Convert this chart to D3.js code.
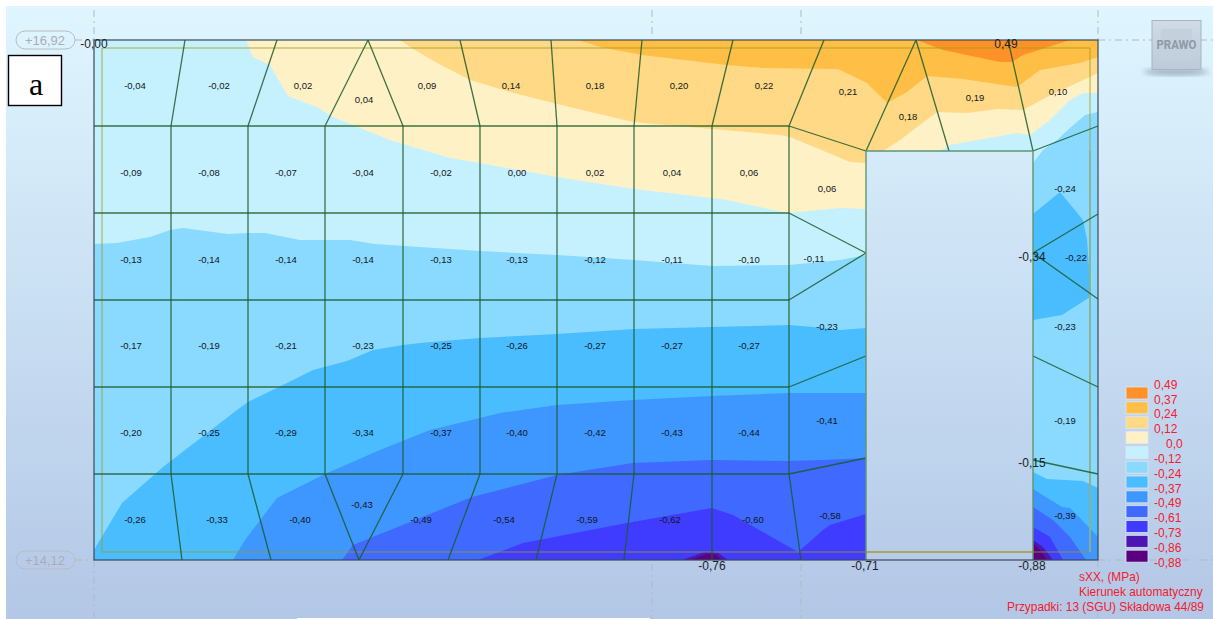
<!DOCTYPE html>
<html>
<head>
<meta charset="utf-8">
<script src="https://cdn.jsdelivr.net/npm/d3@7"></script>
<style>
  html, body { margin: 0; padding: 0; background: #fff; overflow: hidden; }
  svg { display: block; }
  text { font-family: "Liberation Sans", Arial, sans-serif; }
</style>
</head>
<body>
<script>
// model stations: x from the left wall edge, y down from the top wall edge
const wallSize = [1004, 520];
const hole = {x0: 772, x1: 939, y0: 111, y1: 520};

// legend
const legendLabels = ["0,49", "0,37", "0,24", "0,12", "0,0", "-0,12", "-0,24", "-0,37", "-0,49", "-0,61", "-0,73", "-0,86", "-0,88"];
const legendColors = ["#ff9128", "#ffbe46", "#ffd985", "#fff1c6", "#c5f1ff", "#8ad9ff", "#49bdff", "#3e96ff", "#3f69ff", "#3f3cff", "#4c16b0", "#5a0080"];
const captionLines = ["sXX, (MPa)", "Kierunek automatyczny", "Przypadki: 13 (SGU) Składowa 44/89"];

// contour bands, painted in this order over the base colour
const bandCream = [[152,0],[159,17],[176,25],[194,56],[223,67],[239,77],[266,88],[296,100],[306,103],[356,118],[386,123],[463,137],[540,149],[618,158],[633,160],[694,173],[746,168],[772,169],[772,111],[846,111],[856,105],[923,93],[936,95],[956,80],[976,60],[989,53],[1004,53],[1004,0]];
const bandPale = [[306,0],[316,7],[343,23],[376,40],[416,52],[463,64],[539,82],[583,86],[618,89],[686,95],[696,97],[756,122],[772,123],[772,111],[789,111],[806,100],[843,72],[873,73],[903,69],[929,70],[953,57],[1004,33],[1004,0]];
const bandAmber = [[484,0],[506,7],[548,15],[633,25],[669,28],[744,29],[773,43],[793,63],[813,52],[833,36],[869,39],[923,47],[946,30],[986,23],[1004,17],[1004,0]];
const bandOrange = [[823,0],[849,10],[906,22],[918,22],[929,15],[976,0]];
const leftSky = [[0,204],[23,203],[56,197],[76,190],[89,188],[134,194],[153,193],[171,193],[206,200],[256,200],[281,204],[326,207],[386,211],[463,215],[540,220],[618,226],[695,225],[746,220],[772,215],[772,520],[0,520]];
const leftAzure = [[0,510],[28,463],[69,427],[143,370],[154,362],[189,345],[219,330],[253,321],[279,310],[309,305],[326,303],[386,298],[463,294],[540,289],[618,287],[695,285],[719,287],[746,290],[772,288],[772,520],[0,520]];
const leftBlue = [[139,520],[151,500],[183,458],[231,434],[286,410],[336,390],[386,378],[406,373],[463,365],[539,360],[618,356],[696,353],[772,353],[772,520]];
const leftRoyal = [[248,520],[259,505],[326,478],[378,457],[463,435],[539,423],[618,420],[694,421],[729,420],[772,418],[772,520]];
const leftIndigo = [[384,520],[429,503],[533,483],[618,468],[639,475],[704,512],[729,490],[736,485],[772,474],[772,520]];
const leftViolet = [[588,520],[611,512],[624,513],[634,520]];
const leftPurple = [[596,520],[614,514],[622,515],[628,520]];
const rightSky = [[939,123],[949,110],[963,100],[976,88],[991,75],[1004,72],[1004,520],[939,520]];
const rightBlob = [[939,174],[966,152],[989,180],[993,200],[996,240],[996,257],[968,275],[939,280]];
const rightAzure = [[939,432],[953,439],[989,441],[1004,448],[1004,520],[939,520]];
const rightBlue = [[939,449],[968,467],[976,468],[986,478],[1004,497],[1004,520],[939,520]];
const rightRoyal = [[939,467],[959,480],[976,497],[992,520],[939,520]];
const rightIndigo = [[939,487],[956,497],[969,520],[939,520]];
const rightViolet = [[939,500],[949,507],[959,520],[939,520]];
const rightPurple = [[939,503],[947,511],[953,520],[939,520]];

const bands = [
  [bandCream, 3], [bandPale, 2], [bandAmber, 1], [bandOrange, 0],
  [leftSky, 5], [leftAzure, 6], [leftBlue, 7], [leftRoyal, 8], [leftIndigo, 9], [leftViolet, 10], [leftPurple, 11],
  [rightSky, 5], [rightBlob, 6], [rightAzure, 6], [rightBlue, 7], [rightRoyal, 8], [rightIndigo, 9], [rightViolet, 10], [rightPurple, 11]
];

// mesh
const meshRows = [86, 173, 260, 347, 434];
const meshCols = [77, 154, 231, 309, 386, 463, 540, 618, 695];
const topNodes = [91, 183, 274, 274, 366, 457, 548, 639, 730];
const bottomNodes = [88, 177, 265, 265, 354, 442, 530, 618, 707];
const meshExtra = [
  [[772,111],[822,0]], [[855,111],[822,0]], [[939,111],[914,0]],
  [[695,86],[772,111]], [[939,111],[1004,86]],
  [[695,173],[772,213]], [[695,260],[772,213]],
  [[939,213],[1004,174]], [[939,213],[1004,259]],
  [[695,347],[772,316]], [[939,316],[1004,347]],
  [[695,434],[772,418]], [[939,420],[1004,434]]
];

// element values and where they sit
const cellValues = [
  "-0,04","-0,02","0,02","0,04","0,09","0,14","0,18","0,20","0,22","0,21","0,18","0,19","0,10",
  "-0,09","-0,08","-0,07","-0,04","-0,02","0,00","0,02","0,04","0,06","0,06","-0,24",
  "-0,13","-0,14","-0,14","-0,14","-0,13","-0,13","-0,12","-0,11","-0,10","-0,11","-0,22",
  "-0,17","-0,19","-0,21","-0,23","-0,25","-0,26","-0,27","-0,27","-0,27","-0,23","-0,23",
  "-0,20","-0,25","-0,29","-0,34","-0,37","-0,40","-0,42","-0,43","-0,44","-0,41","-0,19",
  "-0,26","-0,33","-0,40","-0,43","-0,49","-0,54","-0,59","-0,62","-0,60","-0,58","-0,39"
];
const cellAnchors = [
  [41,46],[125,46],[209,46],[270,60],[333,46],[417,46],[501,46],[585,46],[670,46],[754,52],[814,77],[881,58],[964,52],
  [37,133],[115,133],[192,133],[269,133],[347,133],[423,133],[501,133],[578,133],[655,133],[733,149],[971,149],
  [37,220],[115,220],[192,220],[269,220],[347,220],[423,220],[501,220],[578,220],[655,220],[720,219],[982,218],
  [37,306],[115,306],[192,306],[269,306],[347,306],[423,306],[501,306],[578,306],[655,306],[733,287],[971,287],
  [37,393],[115,393],[192,393],[269,393],[347,393],[423,393],[501,393],[578,393],[655,393],[733,381],[971,381],
  [41,480],[123,480],[206,480],[268,465],[327,480],[410,480],[493,480],[576,480],[659,480],[736,476],[971,476]
];
const extremeValues = ["-0,00", "0,49", "-0,34", "-0,15", "-0,76", "-0,71", "-0,88"];
const extremeAnchors = [[0,4],[912,4],[938,217],[938,423],[618,526],[771,526],[938,526]];

const elevationLabels = ["+16,92", "+14,12"];
const elevationStations = [0, 520];
const guideStations = [0, 558, 707, 1004];

const width = 1213, height = 619;
const x = d3.scaleLinear().domain([0, wallSize[0]]).range([94, 1098]);
const y = d3.scaleLinear().domain([0, wallSize[1]]).range([40, 560]);
const poly = d3.line().x(d => x(d[0])).y(d => y(d[1]));
const legendY = d3.scalePoint().domain(legendLabels).range([384.5, 562.5]);

const svg = d3.select("body").append("svg")
  .attr("width", width)
  .attr("height", height);

const defs = svg.append("defs");
const grad = defs.append("linearGradient").attr("id", "bg")
  .attr("x1", 0).attr("y1", 0).attr("x2", 0).attr("y2", 1);
grad.append("stop").attr("offset", 0).attr("stop-color", "#dff6ff");
grad.append("stop").attr("offset", 1).attr("stop-color", "#b3c7e6");

const cube = defs.append("linearGradient").attr("id", "cube")
  .attr("x1", 0).attr("y1", 0).attr("x2", 0).attr("y2", 1);
cube.append("stop").attr("offset", 0).attr("stop-color", "#cfdbe6");
cube.append("stop").attr("offset", 1).attr("stop-color", "#bdcad8");

defs.append("filter").attr("id", "soft")
  .append("feGaussianBlur").attr("stdDeviation", 2.5);

const wallOutline = [[0,0],[wallSize[0],0],[wallSize[0],wallSize[1]],[hole.x1,wallSize[1]],[hole.x1,hole.y0],[hole.x0,hole.y0],[hole.x0,wallSize[1]],[0,wallSize[1]]];

defs.append("clipPath").attr("id", "wall")
  .append("path").attr("d", poly(wallOutline) + "Z");

// page background
svg.append("rect").attr("x", 6).attr("y", 6)
  .attr("width", width - 6).attr("height", height - 6)
  .attr("fill", "url(#bg)");
svg.append("rect").attr("x", 297).attr("y", 618)
  .attr("width", 353).attr("height", 1)
  .attr("fill", "#fff");

// guides
const guides = svg.append("g")
  .attr("stroke", "#b4b8bf")
  .attr("stroke-width", 1)
  .attr("stroke-dasharray", "7 4 2 4")
  .attr("fill", "none");
guides.selectAll(".up").data(guideStations).join("line")
  .attr("x1", d => x(d)).attr("x2", d => x(d))
  .attr("y1", 10).attr("y2", d => (d === 0 || d === 1004) ? y(0) : y(0) - 4);
guides.selectAll(".down").data(guideStations).join("line")
  .attr("x1", d => x(d)).attr("x2", d => x(d))
  .attr("y1", d => (d === 0 || d === 1004) ? y(520) : y(520) + 4).attr("y2", height);
guides.selectAll(".right").data(elevationStations).join("line")
  .attr("x1", x(1004)).attr("x2", width)
  .attr("y1", d => y(d)).attr("y2", d => y(d));
guides.selectAll(".left").data(elevationStations).join("line")
  .attr("x1", 75).attr("x2", x(0))
  .attr("y1", d => y(d)).attr("y2", d => y(d));

// elevation pills
const pills = svg.selectAll(".pill").data(elevationLabels).join("g")
  .attr("transform", (d, i) => `translate(0,${y(elevationStations[i])})`);
pills.append("rect")
  .attr("x", 16).attr("y", -9).attr("width", 59).attr("height", 18).attr("rx", 9)
  .attr("fill", "none").attr("stroke", "#b9bcc0");
pills.append("text")
  .attr("x", 45).attr("y", 4.5)
  .attr("text-anchor", "middle")
  .attr("font-size", 13)
  .attr("fill", "#a9adb3")
  .text(d => d);

// contour fill
const plate = svg.append("g").attr("clip-path", "url(#wall)");
plate.append("path").attr("d", poly(wallOutline) + "Z").attr("fill", legendColors[4]);
plate.selectAll(".band").data(bands).join("path")
  .attr("d", d => poly(d[0]) + "Z")
  .attr("fill", d => legendColors[d[1]]);

// inner olive frame
const inset = [[8,8],[996,8],[996,512],[8,512],[8,8]];
svg.append("path").attr("d", poly(inset))
  .attr("fill", "none").attr("stroke", "#9c9c1e").attr("stroke-width", 1).attr("stroke-opacity", 0.8);
svg.append("line")
  .attr("x1", x(996)).attr("x2", x(996)).attr("y1", y(111)).attr("y2", y(512))
  .attr("stroke", "#8fb08a").attr("stroke-width", 2).attr("stroke-opacity", 0.85);
svg.append("line")
  .attr("x1", x(hole.x0)).attr("x2", x(hole.x1)).attr("y1", y(512)).attr("y2", y(512))
  .attr("stroke", "#a8a860").attr("stroke-width", 2);

// mesh lines
const meshSegments = [];
meshRows.forEach(r => meshSegments.push([[0, r], [695, r]]));
meshCols.forEach((c, i) => {
  meshSegments.push([[c, 86], [c, 434]]);
  meshSegments.push([[topNodes[i], 0], [c, 86]]);
  meshSegments.push([[c, 434], [bottomNodes[i], 520]]);
});
meshExtra.forEach(s => meshSegments.push(s));

svg.append("g").selectAll("path").data(meshSegments).join("path")
  .attr("d", poly)
  .attr("fill", "none")
  .attr("stroke", "#1c5c2b")
  .attr("stroke-opacity", 0.85)
  .attr("stroke-width", 1.3);

// hole edge and wall outline
svg.append("path")
  .attr("d", poly([[hole.x0, hole.y1], [hole.x0, hole.y0], [hole.x1, hole.y0], [hole.x1, hole.y1]]))
  .attr("fill", "none").attr("stroke", "#5d9673").attr("stroke-width", 1.4);
svg.append("rect")
  .attr("x", x(0)).attr("y", y(0))
  .attr("width", x(wallSize[0]) - x(0)).attr("height", y(wallSize[1]) - y(0))
  .attr("fill", "none").attr("stroke", "#3c4a58").attr("stroke-width", 1.2);

// element labels
svg.append("g").selectAll("text").data(cellValues).join("text")
  .attr("x", (d, i) => x(cellAnchors[i][0]))
  .attr("y", (d, i) => y(cellAnchors[i][1]))
  .attr("dy", "0.35em")
  .attr("text-anchor", "middle")
  .attr("font-size", 9.5)
  .attr("fill", "#12161c")
  .text(d => d);

svg.append("g").selectAll("text").data(extremeValues).join("text")
  .attr("x", (d, i) => x(extremeAnchors[i][0]))
  .attr("y", (d, i) => y(extremeAnchors[i][1]))
  .attr("dy", "0.35em")
  .attr("text-anchor", "middle")
  .attr("font-size", 12)
  .attr("fill", "#1d2228")
  .text(d => d);

// panel tag
svg.append("rect").attr("x", 8.5).attr("y", 55.5).attr("width", 53).attr("height", 50)
  .attr("fill", "#fff").attr("stroke", "#000").attr("stroke-width", 1.4);
svg.append("text").attr("x", 36).attr("y", 95)
  .attr("text-anchor", "middle")
  .attr("font-size", 32)
  .style("font-family", '"Liberation Serif", serif')
  .attr("fill", "#000")
  .text("a");

// view cube
svg.append("ellipse").attr("cx", 1176).attr("cy", 72).attr("rx", 33).attr("ry", 3.5)
  .attr("fill", "#8c9aa8").attr("opacity", 0.7).attr("filter", "url(#soft)");
svg.append("rect").attr("x", 1152).attr("y", 20.5).attr("width", 49).attr("height", 49)
  .attr("fill", "url(#cube)").attr("stroke", "#aab4bf");
svg.append("rect").attr("x", 1161).attr("y", 29).attr("width", 31).attr("height", 31)
  .attr("fill", "#c4d0dc");
svg.append("text").attr("x", 1176.5).attr("y", 49)
  .attr("text-anchor", "middle")
  .attr("font-size", 12).attr("font-weight", "bold")
  .attr("textLength", 40).attr("lengthAdjust", "spacingAndGlyphs")
  .style("font-family", "Roboto, sans-serif")
  .attr("fill", "#8f9aa6")
  .text("PRAWO");

// legend
const legend = svg.append("g");
legend.selectAll("rect").data(legendColors).join("rect")
  .attr("x", 1126)
  .attr("y", (d, i) => legendY(legendLabels[i]) + 2.5)
  .attr("width", 22)
  .attr("height", 12)
  .attr("fill", d => d)
  .attr("stroke", "#dfe6f0")
  .attr("stroke-width", 0.8);
legend.selectAll("text").data(legendLabels).join("text")
  .attr("x", d => d === "0,0" ? 1166 : 1154)
  .attr("y", d => legendY(d))
  .attr("dy", "0.35em")
  .attr("font-size", 12)
  .attr("fill", "#f2202e")
  .text(d => d);

// caption
svg.append("g").selectAll("text").data(captionLines).join("text")
  .attr("x", (d, i) => i === 2 ? 1007 : 1079)
  .attr("y", (d, i) => 577 + i * 14.7)
  .attr("dy", "0.35em")
  .attr("font-size", 11.9)
  .attr("fill", "#f2202e")
  .text(d => d);
</script>
</body>
</html>
